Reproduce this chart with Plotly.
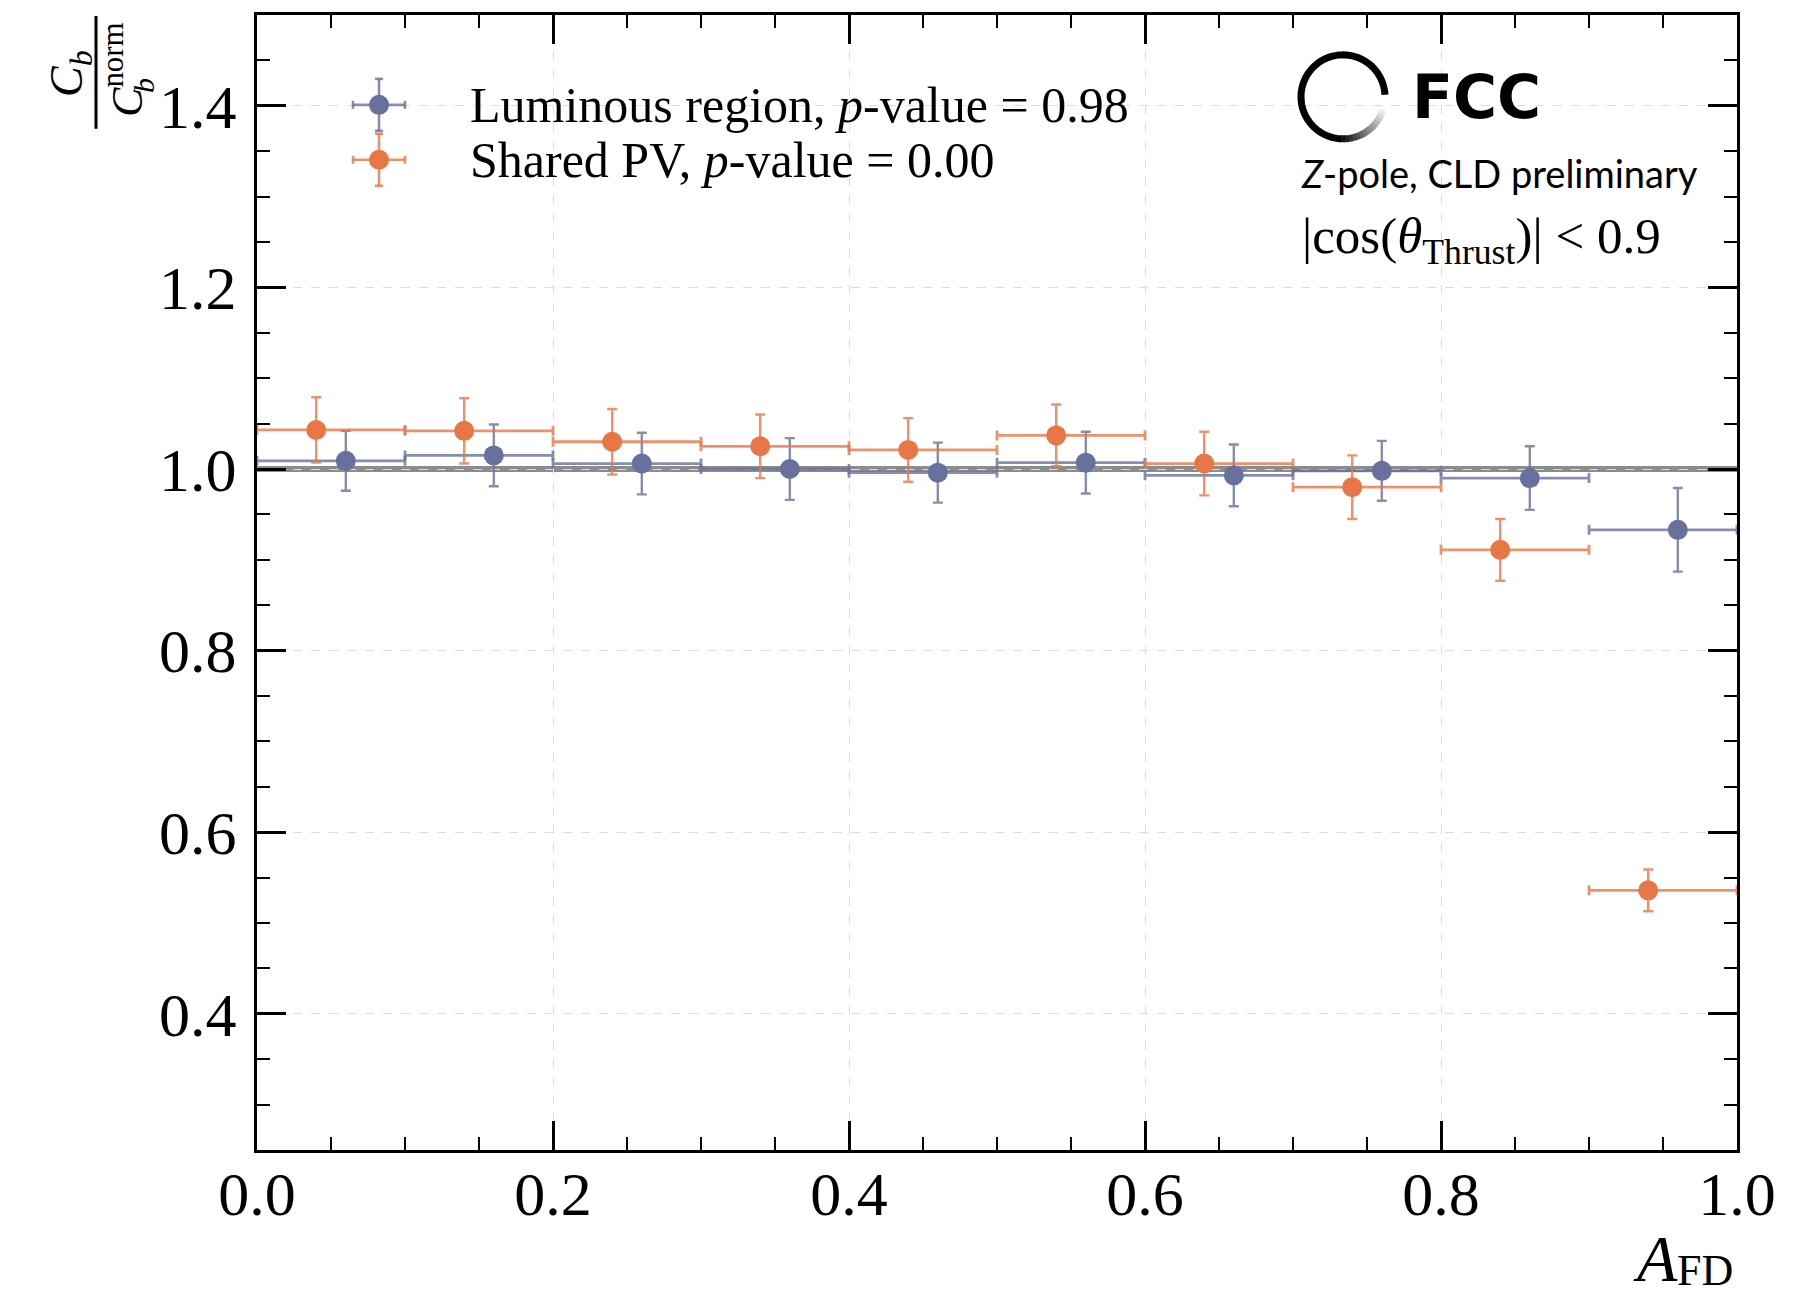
import plotly.graph_objects as go
import math

# ---- data ----
bin_lo = [0.0, 0.1, 0.2, 0.3, 0.4, 0.5, 0.6, 0.7, 0.8, 0.9]
bin_hi = [0.1, 0.2, 0.3, 0.4, 0.5, 0.6, 0.7, 0.8, 0.9, 1.0]

lum_x = [0.06, 0.16, 0.26, 0.36, 0.46, 0.56, 0.66, 0.76, 0.86, 0.96]
lum_y = [1.009, 1.015, 1.006, 1.000, 0.996, 1.007, 0.993, 0.998, 0.990, 0.933]
lum_err = [0.033, 0.034, 0.034, 0.034, 0.033, 0.034, 0.034, 0.033, 0.035, 0.046]

pv_x = [0.04, 0.14, 0.24, 0.34, 0.44, 0.54, 0.64, 0.74, 0.84, 0.94]
pv_y = [1.043, 1.042, 1.030, 1.025, 1.021, 1.037, 1.006, 0.980, 0.911, 0.536]
pv_err = [0.036, 0.036, 0.036, 0.035, 0.035, 0.034, 0.035, 0.035, 0.034, 0.023]

lum_label = "Luminous region, <i>p</i>-value = 0.98"
pv_label = "Shared PV, <i>p</i>-value = 0.00"

x_ticks = [0.0, 0.2, 0.4, 0.6, 0.8, 1.0]
x_ticklabels = ["0.0", "0.2", "0.4", "0.6", "0.8", "1.0"]
y_ticks = [0.4, 0.6, 0.8, 1.0, 1.2, 1.4]
y_ticklabels = ["0.4", "0.6", "0.8", "1.0", "1.2", "1.4"]
ref_value = 1.0

BLUE = "#68709e"
BLUE_E = "rgba(104,112,158,0.8)"
ORANGE = "#e87646"
ORANGE_E = "rgba(232,118,70,0.8)"
SERIF = "Liberation Serif"

fig = go.Figure()


def add_series(xs, ys, errs, name, col, ecol):
    fig.add_trace(go.Scatter(
        x=xs, y=ys, mode="markers", name=name, showlegend=False,
        marker=dict(color=col, size=20, line=dict(width=0)),
        error_y=dict(type="data", array=errs, color=ecol, thickness=2.4, width=5),
        error_x=dict(type="data", array=[h - x for h, x in zip(bin_hi, xs)],
                     arrayminus=[x - l for l, x in zip(bin_lo, xs)],
                     symmetric=False, color=ecol, thickness=2.8, width=5),
        cliponaxis=True,
    ))


add_series(lum_x, lum_y, lum_err, lum_label, BLUE, BLUE_E)
add_series(pv_x, pv_y, pv_err, pv_label, ORANGE, ORANGE_E)

axis_common = dict(
    showline=True, linecolor="black", linewidth=3, mirror="allticks",
    ticks="inside", ticklen=29, tickwidth=2.5, tickcolor="black",
    showgrid=True, gridcolor="#dcdcdc", griddash="dash", gridwidth=1,
    zeroline=False,
    tickfont=dict(family=SERIF, size=62, color="black"),
    minor=dict(ticks="inside", ticklen=13, tickwidth=2.2, tickcolor="black", dtick=0.05, showgrid=False),
)

fig.update_xaxes(range=[0, 1.0], tickvals=x_ticks, ticktext=x_ticklabels, ticklabelstandoff=-12, **axis_common)
fig.update_yaxes(range=[0.25, 1.5], tickvals=y_ticks, ticktext=y_ticklabels, ticklabelstandoff=5, **axis_common)

L, R, T, B = 257, 1793 - 1737, 13, 1294 - 1150
PW, PH = 1737 - 257, 1150 - 13


def px(xp):
    return (xp - L) / PW


def py(yp):
    return 1 - (yp - T) / PH


def ann(text, xp, yp, size, family=SERIF, xanchor="center", yanchor="middle", angle=0):
    return dict(text=text, x=px(xp), y=py(yp), xref="paper", yref="paper", showarrow=False,
                textangle=angle, font=dict(family=family, size=size, color="black"),
                xanchor=xanchor, yanchor=yanchor)


annotations = []
# y-axis title as a rotated fraction
annotations.append(ann("<i>C</i><sub><i>b</i></sub>", 70, 72, 46, angle=-90))
annotations.append(ann("<i>C</i><sup>norm</sup>", 124, 68, 44, angle=-90))
annotations.append(ann("<i>b</i>", 144, 84, 30, angle=-90))
# x-axis title
annotations.append(ann("<i>A</i>", 1680, 1259, 66, xanchor="right"))
annotations.append(ann("FD", 1735, 1271, 44, xanchor="right"))
# FCC label block
annotations.append(ann("<b>FCC</b>", 1410, 95, 60, family="DejaVu Sans", xanchor="left"))
annotations.append(ann("<i>Z</i>-pole, CLD preliminary", 1299, 171, 38, family="Lato", xanchor="left"))
annotations.append(ann("|cos(<i>θ</i><sub>Thrust</sub>)| &lt; 0.9", 1300, 238, 51, xanchor="left"))
# legend text
annotations.append(ann(lum_label, 468, 103, 50, xanchor="left"))
annotations.append(ann(pv_label, 468, 158, 50, xanchor="left"))

shapes = []
# reference line at 1.0
shapes.append(dict(type="line", xref="paper", yref="y", x0=0, x1=1, y0=ref_value, y1=ref_value,
                   line=dict(color="rgb(140,140,140)", width=6), layer="below"))
# fraction bar
shapes.append(dict(type="line", xref="paper", yref="paper", x0=px(96), x1=px(96), y0=py(14), y1=py(127),
                   line=dict(color="black", width=3)))


def pix_shape(kind, xa, ya, **kw):
    d = dict(type=kind, xref="paper", yref="paper", xsizemode="pixel", ysizemode="pixel",
             xanchor=px(xa), yanchor=py(ya))
    d.update(kw)
    return d


# legend symbols: marker with cross-shaped error bars
for (lx, ly, col, ecol) in [(379, 103, BLUE, BLUE_E), (379, 158, ORANGE, ORANGE_E)]:
    ln = dict(color=ecol, width=2.6)
    shapes.append(pix_shape("line", lx, ly, x0=0, x1=0, y0=-26, y1=26, line=ln))
    shapes.append(pix_shape("line", lx, ly, x0=-26, x1=26, y0=0, y1=0, line=ln))
    for s in (-26, 26):
        shapes.append(pix_shape("line", lx, ly, x0=-4, x1=4, y0=s, y1=s, line=ln))
        shapes.append(pix_shape("line", lx, ly, x0=s, x1=s, y0=-4, y1=4, line=ln))
    shapes.append(pix_shape("circle", lx, ly, x0=-10, x1=10, y0=-10, y1=10,
                            fillcolor=col, line=dict(width=0)))

# FCC ring logo
rad = 42


def arc(a0, a1, n=40):
    pts = []
    for i in range(n + 1):
        a = math.radians(a0 + (a1 - a0) * i / n)
        pts.append((rad * math.cos(a), rad * math.sin(a)))
    return "M " + " L ".join(f"{x:.2f},{y:.2f}" for x, y in pts)


shapes.append(pix_shape("path", 1343, 95, path=arc(3, 268, 80), line=dict(color="black", width=7)))
nseg = 14
for i in range(nseg):
    a0 = 268 + i * (342 - 268) / nseg
    a1 = 268 + (i + 1) * (342 - 268) / nseg
    g = int(235 * (i + 1) / nseg)
    shapes.append(pix_shape("path", 1343, 95, path=arc(a0 - 0.5, a1, 4),
                            line=dict(color=f"rgb({g},{g},{g})", width=7)))

fig.update_layout(
    width=1793, height=1294,
    margin=dict(l=L, r=R, t=T, b=B),
    paper_bgcolor="white", plot_bgcolor="white",
    font=dict(family=SERIF, color="black"),
    showlegend=False,
    annotations=annotations,
    shapes=shapes,
)

fig.write_html("out.html", config={"displayModeBar": False},
               post_script="document.body.style.margin='0px';")
